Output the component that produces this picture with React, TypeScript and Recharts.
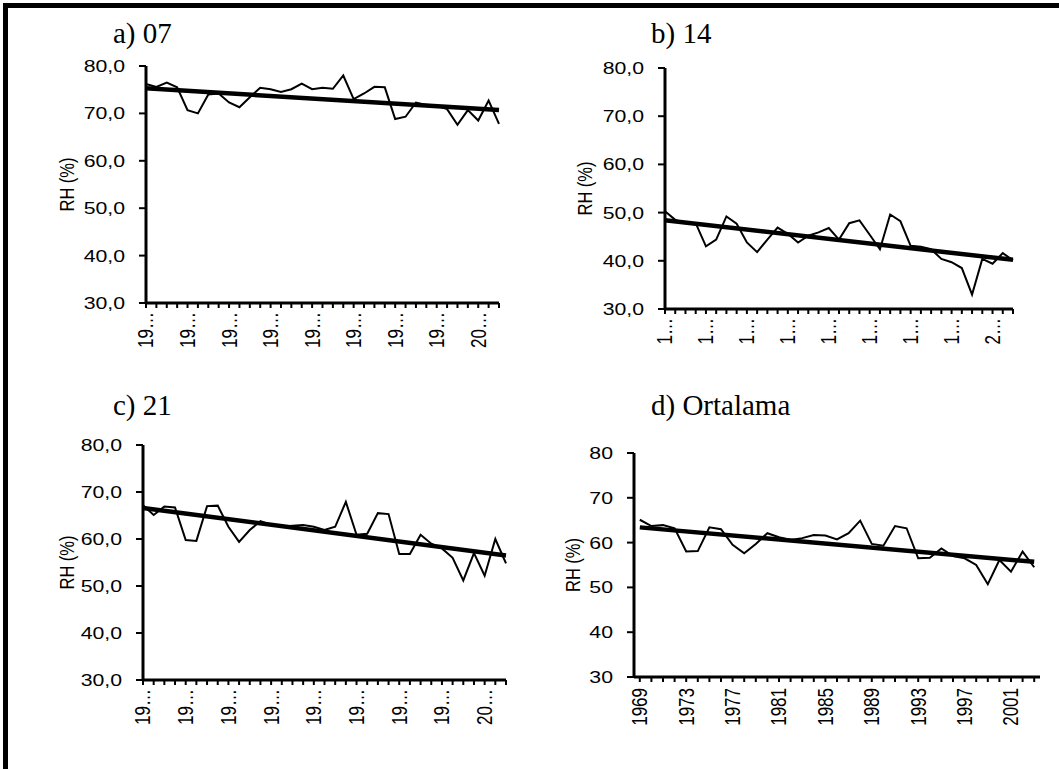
import { LineChart, Line, XAxis, YAxis, ReferenceLine } from 'recharts'

const years = [
  '1969', '1970', '1971', '1972', '1973', '1974', '1975', '1976', '1977', '1978',
  '1979', '1980', '1981', '1982', '1983', '1984', '1985', '1986', '1987', '1988',
  '1989', '1990', '1991', '1992', '1993', '1994', '1995', '1996', '1997', '1998',
  '1999', '2000', '2001', '2002', '2003',
]

// relative humidity (%) per observation hour
const rh07 = [
  76.2, 75.6, 76.5, 75.5, 70.7, 70.0, 74.0, 74.2, 72.3, 71.3,
  73.4, 75.4, 75.1, 74.5, 75.1, 76.3, 75.1, 75.4, 75.2, 78.0,
  73.0, 74.2, 75.6, 75.5, 68.8, 69.3, 72.3, 71.8, 71.6, 70.9,
  67.6, 70.7, 68.5, 72.7, 67.8,
]
const rh14 = [
  50.3, 48.5, 47.8, 47.8, 43.0, 44.4, 49.2, 47.7, 43.8, 41.8,
  44.4, 46.9, 45.6, 43.8, 45.2, 45.9, 46.8, 44.4, 47.8, 48.4,
  45.4, 42.4, 49.6, 48.2, 43.1, 42.9, 42.4, 40.4, 39.7, 38.5,
  33.0, 40.4, 39.4, 41.6, 40.1,
]
const rh21 = [
  67.2, 65.1, 66.9, 66.7, 59.8, 59.6, 67.0, 67.1, 62.6, 59.4,
  61.9, 63.8, 63.0, 62.6, 62.8, 63.0, 62.6, 61.9, 62.6, 67.9,
  60.9, 61.1, 65.5, 65.3, 56.8, 56.8, 60.9, 59.0, 58.0, 56.0,
  51.2, 57.0, 52.2, 60.0, 54.8,
]
const rhMean = [
  65.1, 63.7, 63.9, 63.2, 58.0, 58.1, 63.4, 63.0, 59.5, 57.6,
  59.7, 62.1, 61.2, 60.6, 61.0, 61.7, 61.6, 60.7, 62.1, 64.9,
  59.7, 59.3, 63.7, 63.2, 56.5, 56.6, 58.7, 57.0, 56.5, 55.0,
  50.7, 56.1, 53.5, 58.0, 54.5,
]

// linear trend, first and last year
const trend07 = [75.3, 70.7]
const trend14 = [48.4, 40.2]
const trend21 = [66.6, 56.5]
const trendMean = [63.4, 55.7]

const yTicks = [30, 40, 50, 60, 70, 80]

const SANS = '"Liberation Sans", Arial, sans-serif'
const SERIF = '"Liberation Serif", "Times New Roman", serif'
const STRETCH = 1.25

interface PanelProps {
  values: number[]
  trend: number[]
  plot: [number, number, number, number]
  labelChars: number
  decimals: boolean
  between?: boolean
  rhOffset: number
}

function Panel({ values, trend, plot, labelChars, decimals, between, rhOffset }: PanelProps) {
  const data = years.map((year, i) => ({ year, rh: values[i] }))
  const [l, t, r, b] = plot
  const padL = 130
  const padT = 20
  const padR = 20
  const padB = 80
  const half = between ? (r - l) / years.length / 2 : 0

  const xTick = (p: any) => {
    if (p.index % 4 !== 0) return <g />
    const y = String(p.payload.value)
    const txt = labelChars < y.length ? y.slice(0, labelChars) + '…' : y
    return (
      <text
        transform={`translate(${p.x},${p.y}) scale(${STRETCH},1) rotate(-90)`}
        textAnchor="end"
        dy="0.35em"
        fontSize={17}
        fontFamily={SANS}
        fill="#000"
      >
        {txt}
      </text>
    )
  }

  const yTick = (p: any) => (
    <text
      transform={`translate(${p.x},${p.y}) scale(${STRETCH},1)`}
      textAnchor="end"
      dy="0.35em"
      fontSize={17}
      fontFamily={SANS}
      fill="#000"
    >
      {decimals ? p.payload.value.toFixed(1).replace('.', ',') : p.payload.value}
    </text>
  )

  const rhLabel = (p: any) => {
    const vb = p.viewBox
    const x = vb.x + vb.width - rhOffset
    const y = vb.y + vb.height / 2
    return (
      <text
        transform={`translate(${x},${y}) scale(${STRETCH},1) rotate(-90)`}
        textAnchor="middle"
        dy="0.35em"
        fontSize={16.5}
        fontFamily={SANS}
        fill="#000"
      >
        RH (%)
      </text>
    )
  }

  return (
    <div style={{ position: 'absolute', left: l - padL, top: t - padT }}>
      <LineChart
        width={r - l + padL + padR}
        height={b - t + padT + padB}
        data={data}
        margin={{ top: padT, right: padR, bottom: padB - 70, left: 0 }}
      >
        <XAxis
          dataKey="year"
          interval={0}
          height={70}
          tickSize={5}
          tickMargin={between ? 6 : 4}
          padding={{ left: half, right: half }}
          axisLine={{ stroke: '#000', strokeWidth: 3 }}
          tickLine={{ stroke: '#000', strokeWidth: 2 }}
          tick={xTick}
        />
        <YAxis
          width={padL}
          domain={[30, 80]}
          ticks={yTicks}
          interval={0}
          tickSize={7}
          tickMargin={14}
          axisLine={{ stroke: '#000', strokeWidth: 3 }}
          tickLine={{ stroke: '#000', strokeWidth: 2 }}
          tick={yTick}
          label={{ value: 'RH (%)', content: rhLabel }}
        />
        <Line
          type="linear"
          dataKey="rh"
          stroke="#000"
          strokeWidth={2}
          dot={false}
          isAnimationActive={false}
        />
        <ReferenceLine
          segment={[
            { x: years[0], y: trend[0] },
            { x: years[years.length - 1], y: trend[1] },
          ]}
          stroke="#000"
          strokeWidth={4.5}
        />
      </LineChart>
    </div>
  )
}

const titleStyle = (left: number, top: number): React.CSSProperties => ({
  position: 'absolute',
  left,
  top,
  fontFamily: SERIF,
  fontSize: 29,
  lineHeight: '29px',
  color: '#000',
  whiteSpace: 'nowrap',
})

export default function App() {
  return (
    <div
      style={{
        position: 'absolute',
        left: 0,
        top: 0,
        width: 1059,
        height: 769,
        background: '#fff',
        overflow: 'hidden',
      }}
    >
      <div
        style={{
          position: 'absolute',
          left: 3,
          top: 3,
          width: 1080,
          height: 800,
          borderTop: '5px solid #000',
          borderLeft: '5px solid #000',
        }}
      />
      <div style={titleStyle(113, 19)}>a) 07</div>
      <div style={titleStyle(651, 19)}>b) 14</div>
      <div style={titleStyle(113, 391)}>c) 21</div>
      <div style={titleStyle(651, 391)}>d) Ortalama</div>

      <Panel values={rh07} trend={trend07} plot={[146, 66, 499, 303]} labelChars={2} decimals rhOffset={79} />
      <Panel values={rh14} trend={trend14} plot={[665, 68, 1013, 309]} labelChars={1} decimals rhOffset={80} />
      <Panel values={rh21} trend={trend21} plot={[143, 445, 506, 680]} labelChars={2} decimals rhOffset={76} />
      <Panel values={rhMean} trend={trendMean} plot={[634, 453, 1040, 677]} labelChars={4} decimals={false} between rhOffset={61} />
    </div>
  )
}
